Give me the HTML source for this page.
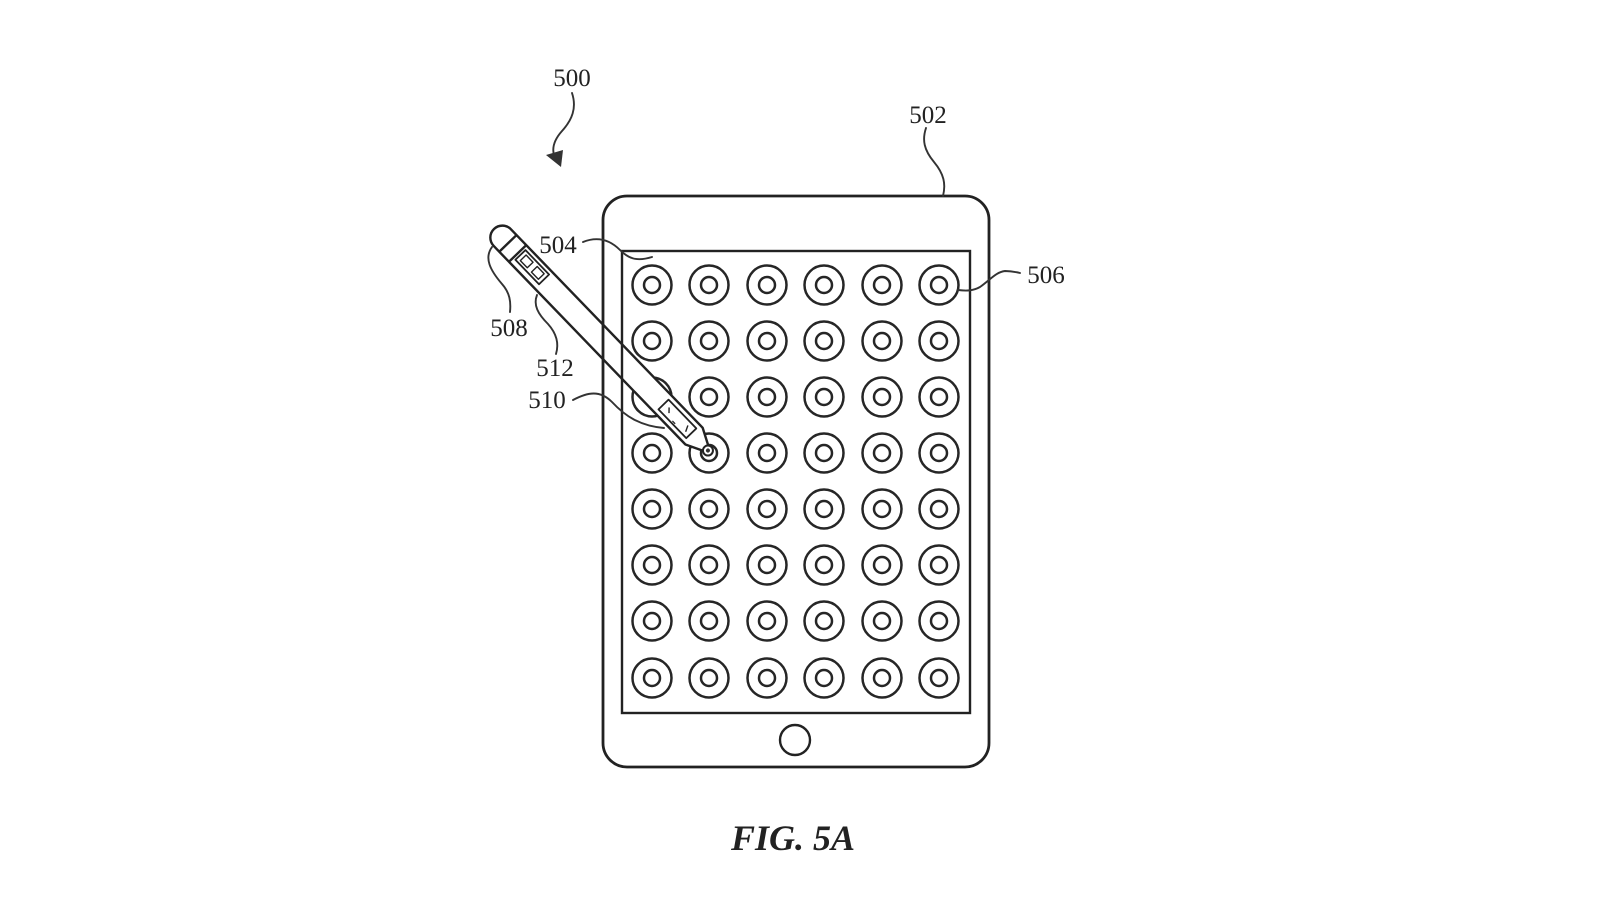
<!DOCTYPE html>
<html>
<head>
<meta charset="utf-8">
<style>
  html, body { margin:0; padding:0; background:#fff; }
  svg { display:block; }
  text { font-family: "Liberation Serif", serif; fill:#222; }
</style>
</head>
<body>
<svg width="1600" height="900" viewBox="0 0 1600 900" xmlns="http://www.w3.org/2000/svg">
  <rect width="1600" height="900" fill="#fff"/>

  <!-- grid of circles -->
  <g fill="none" stroke="#262626" stroke-width="2.5">
    <g id="row">
      <circle cx="652" cy="285" r="19.5"/><circle cx="652" cy="285" r="8"/>
      <circle cx="709" cy="285" r="19.5"/><circle cx="709" cy="285" r="8"/>
      <circle cx="767" cy="285" r="19.5"/><circle cx="767" cy="285" r="8"/>
      <circle cx="824" cy="285" r="19.5"/><circle cx="824" cy="285" r="8"/>
      <circle cx="882" cy="285" r="19.5"/><circle cx="882" cy="285" r="8"/>
      <circle cx="939" cy="285" r="19.5"/><circle cx="939" cy="285" r="8"/>
    </g>
    <use href="#row" y="56"/>
    <use href="#row" y="112"/>
    <use href="#row" y="168"/>
    <use href="#row" y="224"/>
    <use href="#row" y="280"/>
    <use href="#row" y="336"/>
    <use href="#row" y="393"/>
  </g>

  <!-- stylus -->
  <g transform="translate(494,229) rotate(46)" stroke="#222" stroke-width="2.4" fill="#fff" stroke-linejoin="round">
    <path d="M12,-12 L288,-12 L304,-4 L304,4 L288,12 L12,12 A12,12 0 0 1 12,-12 Z"/>
    <line x1="20" y1="-12" x2="20" y2="12"/>
    <line x1="34" y1="-12" x2="34" y2="12"/>
    <!-- upper module -->
    <rect x="37" y="-8" width="34" height="14" fill="none" stroke-width="1.8"/>
    <rect x="41" y="-5" width="10" height="8" fill="none" stroke-width="1.4"/>
    <rect x="57" y="-5" width="10" height="8" fill="none" stroke-width="1.4"/>
    <!-- lower module -->
    <rect x="244" y="-7" width="40" height="14" fill="none" stroke-width="1.8"/>
    <line x1="250" y1="-2" x2="254" y2="2" stroke-width="1.4"/>
    <line x1="276" y1="-3" x2="279" y2="3" stroke-width="1.4"/>
    <line x1="262" y1="5" x2="266" y2="5" stroke-width="1.2"/>
    <!-- nib -->
    <circle cx="308" cy="0" r="5" fill="#fff" stroke-width="2"/>
    <circle cx="308" cy="0" r="2" fill="#333" stroke="none"/>
  </g>

  <!-- device -->
  <g fill="none" stroke="#222" stroke-width="2.8">
    <rect x="603" y="196" width="386" height="571" rx="24" ry="24"/>
    <rect x="622" y="251" width="348" height="462" stroke-width="2.4"/>
    <circle cx="795" cy="740" r="15" stroke-width="2.4"/>
  </g>

  <!-- leader lines -->
  <g fill="none" stroke="#333" stroke-width="1.9" stroke-linecap="round">
    <!-- 500 arrow -->
    <path d="M572,93 C577,108 572,120 562,131 C554,140 552,148 554,155"/>
    <!-- 502 -->
    <path d="M926,128 C922,140 924,150 934,162 C944,174 946,184 943,196"/>
    <!-- 504 -->
    <path d="M583,242 C598,236 610,240 620,250 C628,258 636,262 652,257"/>
    <!-- 506 -->
    <path d="M958,290 C966,291 973,291 980,287 C990,280 996,272 1005,271 C1010,271 1016,272 1020,273"/>
    <!-- 508 -->
    <path d="M492,247 C484,258 490,270 502,284 C510,293 511,302 510,312"/>
    <!-- 512 -->
    <path d="M537,295 C533,305 538,314 548,324 C557,334 559,344 556,354"/>
    <!-- 510 -->
    <path d="M573,400 C588,392 600,390 612,402 C625,416 640,426 664,428"/>
  </g>
  <polygon points="546,155 563,150 561,167" fill="#333"/>

  <!-- labels -->
  <g font-size="25" text-anchor="middle">
    <text x="572" y="86">500</text>
    <text x="928" y="123">502</text>
    <text x="558" y="253">504</text>
    <text x="1046" y="283">506</text>
    <text x="509" y="336">508</text>
    <text x="555" y="376">512</text>
    <text x="547" y="408">510</text>
  </g>

  <text x="793" y="850" font-size="36" font-weight="bold" font-style="italic" text-anchor="middle">FIG. 5A</text>
</svg>
</body>
</html>
